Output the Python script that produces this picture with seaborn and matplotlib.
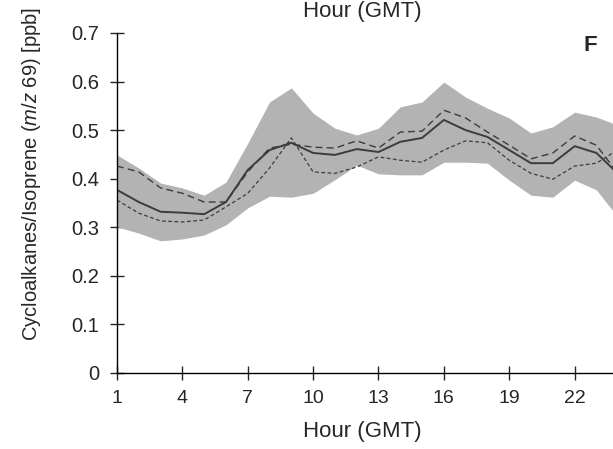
import numpy as np
import pandas as pd
import matplotlib
matplotlib.use("Agg")
import matplotlib.pyplot as plt
import seaborn as sns

# hourly values (GMT hours 1-24)
hours = list(range(1, 25))
band_upper = [0.449, 0.422, 0.391, 0.381, 0.366, 0.393, 0.473, 0.558, 0.587, 0.535, 0.504, 0.490,
              0.504, 0.548, 0.558, 0.599, 0.568, 0.545, 0.525, 0.494, 0.507, 0.537, 0.527, 0.510]
band_lower = [0.301, 0.288, 0.272, 0.276, 0.284, 0.305, 0.340, 0.364, 0.362, 0.370, 0.398, 0.428,
              0.410, 0.408, 0.408, 0.434, 0.434, 0.432, 0.397, 0.366, 0.362, 0.397, 0.377, 0.320]
mean_line = [0.377, 0.352, 0.332, 0.330, 0.327, 0.352, 0.418, 0.459, 0.474, 0.453, 0.449, 0.461,
             0.455, 0.476, 0.484, 0.521, 0.500, 0.486, 0.459, 0.432, 0.432, 0.467, 0.453, 0.410]
dash_long = [0.426, 0.414, 0.381, 0.370, 0.352, 0.352, 0.414, 0.463, 0.471, 0.465, 0.463, 0.478,
             0.463, 0.496, 0.498, 0.541, 0.525, 0.496, 0.469, 0.441, 0.453, 0.488, 0.469, 0.410]
dash_short = [0.356, 0.329, 0.313, 0.311, 0.315, 0.342, 0.370, 0.422, 0.484, 0.414, 0.411, 0.424,
              0.445, 0.438, 0.434, 0.459, 0.478, 0.474, 0.438, 0.411, 0.399, 0.426, 0.432, 0.460]
xticks = [1, 4, 7, 10, 13, 16, 19, 22]
yticks = [0, 0.1, 0.2, 0.3, 0.4, 0.5, 0.6, 0.7]
ytick_labels = ["0", "0.1", "0.2", "0.3", "0.4", "0.5", "0.6", "0.7"]

df = pd.DataFrame({"hour": hours, "upper": band_upper, "lower": band_lower,
                   "mean": mean_line, "long": dash_long, "short": dash_short})

sns.set_style("ticks")
plt.rcParams["font.family"] = ["Liberation Sans", "DejaVu Sans"]
plt.rcParams["mathtext.fontset"] = "custom"
plt.rcParams["mathtext.it"] = "Liberation Sans:italic"
plt.rcParams["mathtext.rm"] = "Liberation Sans"

fig = plt.figure(figsize=(6.13, 4.49), dpi=100)
# axes run past the right edge: the reference is cropped there
ax = fig.add_axes([117 / 613, 1 - 373 / 449, (640 - 117) / 613, 340 / 449])

ax.fill_between(df["hour"], df["lower"], df["upper"], color="#b3b3b3", linewidth=0)
sns.lineplot(data=df, x="hour", y="mean", ax=ax, color="#3c3c3c", linewidth=1.4)
sns.lineplot(data=df, x="hour", y="long", ax=ax, color="#3c3c3c", linewidth=1.0,
             linestyle=(0, (5, 3)))
sns.lineplot(data=df, x="hour", y="short", ax=ax, color="#3c3c3c", linewidth=0.9,
             linestyle=(0, (3, 2)))

ax.set_xlim(1, 25)
ax.set_ylim(0, 0.7)
ax.set_xticks(xticks)
ax.set_yticks(yticks)
ax.set_yticklabels(ytick_labels)
ax.tick_params(axis="x", direction="inout", length=10, width=1, labelsize=14, pad=7)
ax.tick_params(axis="y", direction="inout", length=10, width=1, labelsize=14.5, pad=8)
sns.despine(ax=ax)
for s in ["left", "bottom"]:
    ax.spines[s].set_color("black")
    ax.spines[s].set_linewidth(1)

ax.set_xlabel("Hour (GMT)", fontsize=16)
ax.xaxis.label.set_va("center")
ax.xaxis.set_label_coords((362 - 117) / (640 - 117), -(432 - 373) / 340)
ax.set_ylabel("")
fig.text(32 / 613, 1 - 174 / 449, r"Cycloalkanes/Isoprene $\mathit{(m/z\ 69)}$ [ppb]",
         fontsize=14.5, rotation=90, ha="center", va="center")

fig.text(590 / 613, 1 - 45.5 / 449, "F", fontsize=16, fontweight="bold", ha="center", va="center")
fig.text(362 / 613, 1 - 12 / 449, "Hour (GMT)", fontsize=16, ha="center", va="center")

fig.savefig("out.png", dpi=100)
